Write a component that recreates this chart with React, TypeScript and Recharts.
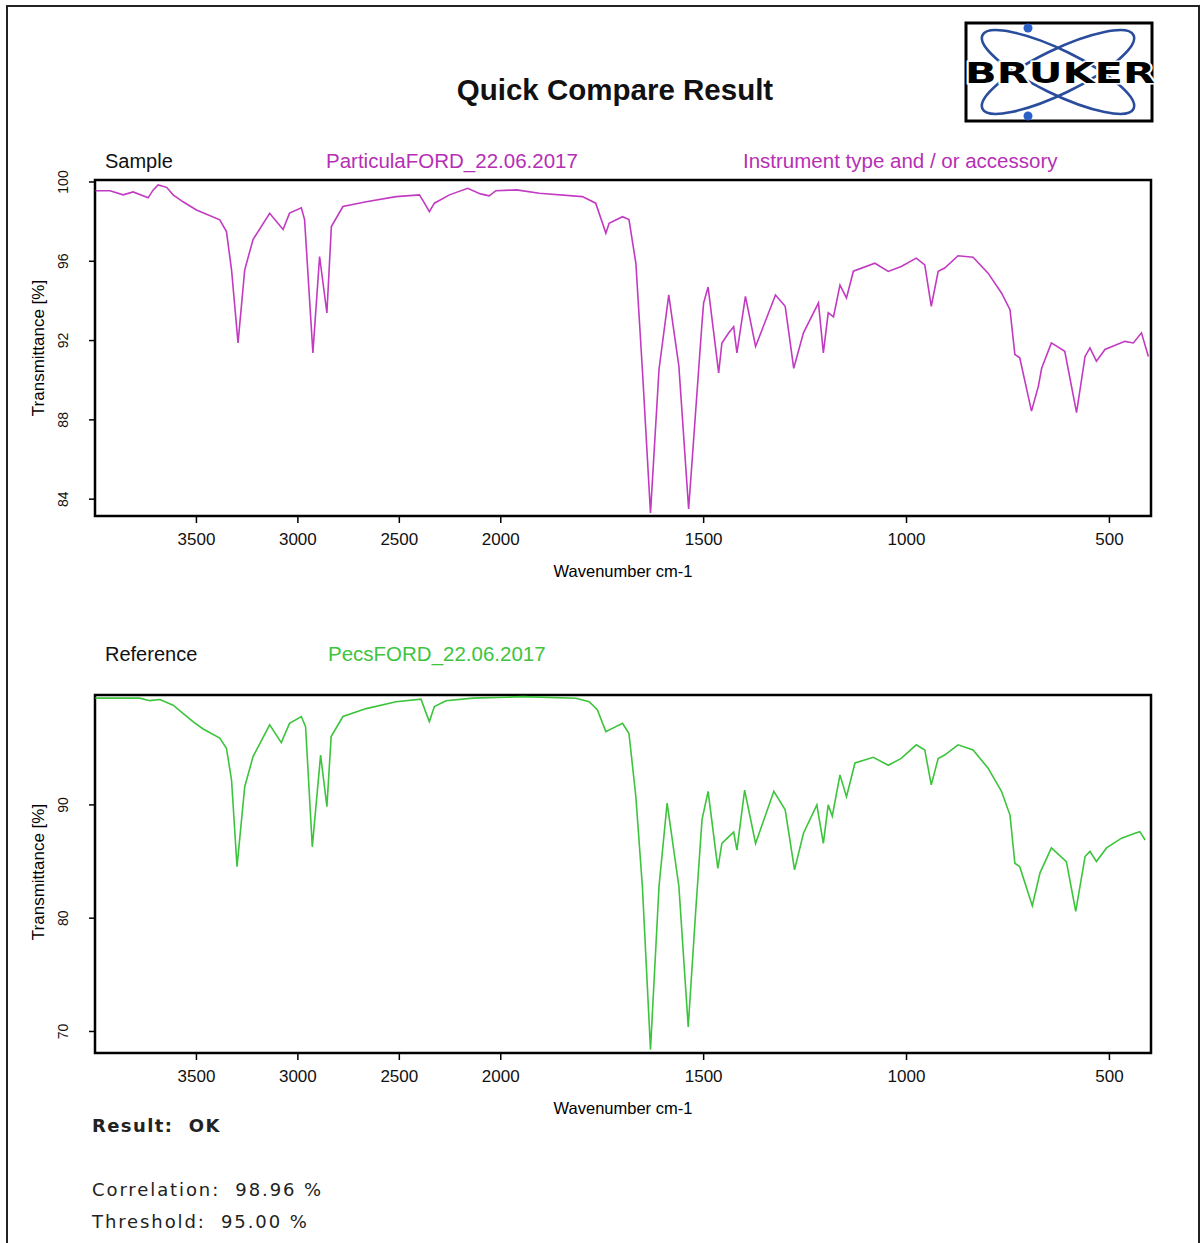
import React from "react";
import { LineChart, Line, XAxis, YAxis, ReferenceArea } from "recharts";

// Sample spectrum (ParticulaFORD_22.06.2017)
const sampleWavenumbers = [
  3998, 3926, 3861, 3812, 3738, 3713, 3689, 3647, 3615, 3566, 3500, 3385, 3352,
  3327, 3295, 3262, 3221, 3139, 3073, 3041, 2983, 2967, 2926, 2893, 2857, 2835,
  2778, 2663, 2516, 2401, 2376, 2352, 2327, 2253, 2163, 2100, 2057, 2024, 1961,
  1905, 1799, 1766, 1741, 1733, 1700, 1684, 1667, 1651, 1631, 1610, 1586, 1561,
  1537, 1524, 1504, 1500, 1489, 1463, 1455, 1438, 1426, 1418, 1397, 1372, 1323,
  1299, 1278, 1254, 1217, 1205, 1193, 1180, 1164, 1148, 1131, 1078, 1045, 1013,
  976, 955, 939, 922, 906, 873, 836, 799, 766, 745, 733, 721, 692, 675, 667, 643,
  610, 581, 560, 548, 532, 511, 462, 441, 421, 404,
];
const sampleTransmittance = [
  99.56, 99.56, 99.35, 99.5, 99.2, 99.6, 99.85, 99.73, 99.35, 99.0, 98.59, 98.09,
  97.5, 95.57, 91.88, 95.57, 97.1, 98.42, 97.6, 98.43, 98.7, 98.1, 91.38, 96.24,
  93.39, 97.75, 98.76, 99.0, 99.26, 99.35, 98.93, 98.5, 98.93, 99.35, 99.68, 99.4,
  99.3, 99.56, 99.6, 99.43, 99.26, 98.93, 97.42, 97.92, 98.25, 98.1, 95.9, 90.54,
  83.3, 90.54, 94.3, 90.7, 83.5, 87.2, 92.9, 93.9, 94.7, 90.37, 91.88, 92.39, 92.7,
  91.38, 94.23, 91.7, 94.3, 93.73, 90.6, 92.39, 93.9, 91.38, 93.4, 93.2, 94.8,
  94.15, 95.5, 95.9, 95.49, 95.74, 96.16, 95.82, 93.73, 95.49, 95.66, 96.28, 96.2,
  95.4, 94.4, 93.56, 91.3, 91.13, 88.44, 89.7, 90.6, 91.88, 91.46, 88.36, 91.2,
  91.63, 90.96, 91.55, 91.96, 91.88, 92.39, 91.2,
];

// Reference spectrum (PecsFORD_22.06.2017)
const referenceWavenumbers = [
  3998, 3780, 3730, 3680, 3615, 3517, 3467, 3385, 3352, 3327, 3300, 3262, 3221,
  3139, 3082, 3041, 2983, 2962, 2929, 2888, 2857, 2836, 2778, 2663, 2516, 2393,
  2368, 2352, 2327, 2270, 2139, 1988, 1945, 1815, 1782, 1762, 1741, 1700, 1684,
  1667, 1651, 1631, 1610, 1590, 1561, 1538, 1520, 1504, 1489, 1465, 1455, 1438,
  1426, 1418, 1399, 1372, 1327, 1299, 1276, 1254, 1221, 1205, 1193, 1183, 1164,
  1148, 1127, 1082, 1045, 1013, 976, 955, 939, 922, 906, 873, 836, 799, 766, 745,
  733, 721, 690, 671, 643, 606, 583, 560, 548, 532, 507, 470, 437, 425, 412,
];
const referenceTransmittance = [
  99.42, 99.42, 99.2, 99.3, 98.8, 97.35, 96.7, 95.9, 95.0, 92.2, 84.55, 91.6,
  94.26, 97.06, 95.5, 97.2, 97.8, 96.9, 86.3, 94.4, 89.85, 96.03, 97.8, 98.5, 99.1,
  99.33, 98.1, 97.35, 98.68, 99.2, 99.42, 99.5, 99.56, 99.42, 99.1, 98.4, 96.47,
  97.2, 96.3, 90.7, 82.8, 68.4, 82.8, 90.15, 82.8, 70.4, 80.4, 88.7, 91.2, 84.4,
  86.6, 87.2, 87.6, 86.0, 91.3, 86.6, 91.2, 89.56, 84.26, 87.5, 90.0, 86.6, 90.0,
  89.0, 92.65, 90.73, 93.7, 94.2, 93.5, 94.1, 95.3, 94.85, 91.77, 94.1, 94.4, 95.3,
  94.85, 93.24, 91.2, 89.1, 84.85, 84.55, 81.1, 84.0, 86.2, 85.0, 80.6, 85.44, 85.9,
  85.0, 86.2, 87.06, 87.5, 87.64, 86.9,
];

const wavenumberTicks = [3500, 3000, 2500, 2000, 1500, 1000, 500];
const sampleYTicks = [84, 88, 92, 96, 100];
const referenceYTicks = [70, 80, 90];

const FONT = "'Liberation Sans', Arial, sans-serif";
const MONO = "'DejaVu Sans', Verdana, sans-serif";

// the x axis is stretched 2x below 2000 cm-1, like the OPUS plot
function toAxis(wn: number) {
  return wn >= 2000 ? 4000 - wn : 2000 + (2000 - wn) * 2;
}
function fromAxis(u: number) {
  return u <= 2000 ? 4000 - u : 2000 - (u - 2000) / 2;
}

const X_MAX = 5205;

function XTick({ x, y, payload }: any) {
  return (
    <text x={x} y={y + 14} textAnchor="middle" dominantBaseline="central" fontSize={17} fontFamily={FONT} fill="#111">
      {Math.round(fromAxis(payload.value))}
    </text>
  );
}

function YTick({ x, y, payload }: any) {
  const cx = x - 24;
  return (
    <text
      x={cx}
      y={y}
      transform={`rotate(-90 ${cx} ${y})`}
      textAnchor="middle"
      dominantBaseline="central"
      fontSize={14}
      fontFamily={FONT}
      fill="#111"
    >
      {payload.value}
    </text>
  );
}

function Txt({ x, y, children, style }: any) {
  return (
    <div
      style={{
        position: "absolute",
        left: x,
        top: y - 15,
        lineHeight: "30px",
        height: 30,
        whiteSpace: "pre",
        fontFamily: FONT,
        ...style,
      }}
    >
      {children}
    </div>
  );
}

function VTxt({ cx, cy, children }: any) {
  return (
    <div
      style={{
        position: "absolute",
        left: cx - 100,
        top: cy - 12,
        width: 200,
        lineHeight: "24px",
        textAlign: "center",
        transform: "rotate(-90deg)",
        fontFamily: FONT,
        fontSize: 17,
      }}
    >
      {children}
    </div>
  );
}

function Spectrum({ wavenumbers, values, color, yDomain, yTicks, top, height, marginTop, marginBottom }: any) {
  const data = wavenumbers.map((wn: number, i: number) => ({ u: toAxis(wn), t: values[i] }));
  return (
    <div style={{ position: "absolute", left: 0, top }}>
      <LineChart
        width={1203}
        height={height}
        data={data}
        margin={{ top: marginTop, right: 52, left: 35, bottom: marginBottom }}
      >
        <XAxis
          dataKey="u"
          type="number"
          domain={[0, X_MAX]}
          allowDataOverflow
          ticks={wavenumberTicks.map(toAxis)}
          tick={<XTick />}
          tickSize={7}
          tickLine={{ stroke: "#000", strokeWidth: 1.5 }}
          axisLine={false}
          height={60}
        />
        <YAxis
          type="number"
          domain={yDomain}
          allowDataOverflow
          ticks={yTicks}
          tick={<YTick />}
          tickSize={6}
          tickLine={{ stroke: "#000", strokeWidth: 1.5 }}
          axisLine={false}
          width={60}
        />
        <ReferenceArea
          x1={0}
          x2={X_MAX}
          y1={yDomain[0]}
          y2={yDomain[1]}
          fill="none"
          fillOpacity={0}
          stroke="#000"
          strokeWidth={2.5}
          ifOverflow="visible"
        />
        <Line
          type="linear"
          dataKey="t"
          stroke={color}
          strokeWidth={1.6}
          dot={false}
          isAnimationActive={false}
        />
      </LineChart>
    </div>
  );
}

function BrukerLogo() {
  return (
    <svg width={200} height={110} style={{ position: "absolute", left: 960, top: 17 }}>
      <rect x={6} y={6} width={186} height={98} fill="#fff" stroke="#000" strokeWidth={3} />
      <g fill="none" stroke="#2a4c9c" strokeWidth={2.6}>
        <ellipse cx={98} cy={55} rx={84} ry={22} transform="rotate(-26 98 55)" />
        <ellipse cx={98} cy={55} rx={84} ry={22} transform="rotate(26 98 55)" />
      </g>
      <circle cx={68} cy={11} r={4.5} fill="#2a60c8" />
      <circle cx={68} cy={99} r={4.5} fill="#2a60c8" />
      <text
        x={100}
        y={66}
        textAnchor="middle"
        fontFamily="'DejaVu Sans', Arial, sans-serif"
        fontWeight="bold"
        fontSize={28}
        textLength={190}
        lengthAdjust="spacingAndGlyphs"
        fill="#000"
        stroke="#fff"
        strokeWidth={3}
        paintOrder="stroke"
      >
        BRUKER
      </text>
    </svg>
  );
}

export default function App() {
  return (
    <div
      style={{
        position: "absolute",
        left: 0,
        top: 0,
        width: 1203,
        height: 1243,
        overflow: "hidden",
        background: "#fff",
        fontFamily: FONT,
      }}
    >
      <div
        style={{
          position: "absolute",
          left: 6,
          top: 5,
          width: 1190,
          height: 1260,
          border: "2px solid #222",
        }}
      />
      <Txt x={0} y={90} style={{ width: 1230, textAlign: "center", fontSize: 29.5, fontWeight: "bold", color: "#111" }}>
        Quick Compare Result
      </Txt>
      <BrukerLogo />

      <Txt x={105} y={161} style={{ fontSize: 20, color: "#111" }}>Sample</Txt>
      <Txt x={326} y={161} style={{ fontSize: 20.5, color: "#b52fb5" }}>ParticulaFORD_22.06.2017</Txt>
      <Txt x={743} y={161} style={{ fontSize: 20.5, color: "#b52fb5" }}>Instrument type and / or accessory</Txt>

      <Spectrum
        wavenumbers={sampleWavenumbers}
        values={sampleTransmittance}
        color="#c23ac2"
        yDomain={[83.15, 100.1]}
        yTicks={sampleYTicks}
        top={0}
        height={600}
        marginTop={180}
        marginBottom={24}
      />
      <VTxt cx={39} cy={348}>Transmittance [%]</VTxt>
      <Txt x={0} y={571} style={{ width: 1246, textAlign: "center", fontSize: 16.5 }}>Wavenumber cm-1</Txt>

      <Txt x={105} y={654} style={{ fontSize: 20, color: "#111" }}>Reference</Txt>
      <Txt x={328} y={654} style={{ fontSize: 20.5, color: "#3ec43e" }}>PecsFORD_22.06.2017</Txt>

      <Spectrum
        wavenumbers={referenceWavenumbers}
        values={referenceTransmittance}
        color="#3cc43c"
        yDomain={[68.1, 99.7]}
        yTicks={referenceYTicks}
        top={600}
        height={540}
        marginTop={95}
        marginBottom={27}
      />
      <VTxt cx={39} cy={872}>Transmittance [%]</VTxt>
      <Txt x={0} y={1108} style={{ width: 1246, textAlign: "center", fontSize: 16.5 }}>Wavenumber cm-1</Txt>

      <Txt x={92} y={1126} style={{ fontFamily: MONO, fontSize: 18, fontWeight: "bold", letterSpacing: 1.4, color: "#222" }}>
        {"Result:  OK"}
      </Txt>
      <Txt x={92} y={1190} style={{ fontFamily: MONO, fontSize: 18, letterSpacing: 1.9, color: "#222" }}>
        {"Correlation:  98.96 %"}
      </Txt>
      <Txt x={92} y={1222} style={{ fontFamily: MONO, fontSize: 18, letterSpacing: 1.9, color: "#222" }}>
        {"Threshold:  95.00 %"}
      </Txt>
    </div>
  );
}
